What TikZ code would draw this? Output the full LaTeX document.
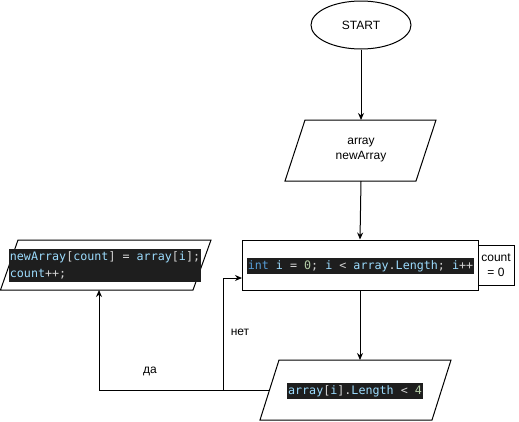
\documentclass[tikz,border=0pt]{standalone}
\usepackage{fontspec}
\setmainfont{Liberation Sans}
\setmonofont{DejaVu Sans Mono}
\usetikzlibrary{arrows.meta,shapes.geometric}
\definecolor{codebg}{HTML}{1E1E1E}
\definecolor{cid}{HTML}{9CDCFE}
\definecolor{ckw}{HTML}{569CD6}
\definecolor{cnum}{HTML}{B5CEA8}
\definecolor{cop}{HTML}{D4D4D4}
\newcommand{\cI}[1]{\textcolor{cid}{#1}}
\newcommand{\cK}[1]{\textcolor{ckw}{#1}}
\newcommand{\cN}[1]{\textcolor{cnum}{#1}}
\begin{document}
\begin{tikzpicture}[x=1pt,y=-1pt,line width=1pt,
  lbl/.style={font=\fontsize{12}{14.5}\selectfont,align=center,inner sep=0pt},
  code/.style={fill=codebg,text=cop,font=\ttfamily\fontsize{11.7}{17.5}\selectfont,inner xsep=1pt,inner ysep=2pt,align=left},
  conn/.style={draw,-{Stealth[length=7pt,width=6pt]}}]
\useasboundingbox (0,0) rectangle (519,421);
\fill[white] (0,0) rectangle (519,421);

% START
\node[draw,ellipse,minimum width=100pt,minimum height=48pt,inner sep=0pt,lbl] (start) at (361,25) {START};

% input parallelogram
\draw (305,120) -- (436,120) -- (416,181) -- (285,181) -- cycle;
\node[lbl] (in1) at (361,150) {array\\newArray};
\coordinate (in1n) at (361,120);
\coordinate (in1s) at (361,181);

% loop box
\node[draw,minimum width=236pt,minimum height=50pt,inner sep=0pt] (loop) at (360,265) {};
\node[code] (loopcode) at (360.5,266) {\cK{int} \cI{i} = \cN{0}; \cI{i} < \cI{array}.\cI{Length}; \cI{i}++};
\node[draw,lbl,minimum width=36pt,minimum height=40pt] (count) at (496,265) {count\\= 0};

% decision parallelogram
\draw (279,360) -- (451,360) -- (432,420) -- (260,420) -- cycle;
\node[code] (deccode) at (355,391) {\cI{array}[\cI{i}].\cI{Length} < \cN{4}};
\coordinate (decn) at (360,360);
\coordinate (decw) at (269.5,390);

% left parallelogram
\draw (18,240) -- (211,240) -- (193,290) -- (0.5,290) -- cycle;
\node[code] (leftcode) at (105,265.5) {\cI{newArray}[\cI{count}] = \cI{array}[\cI{i}];\\\cI{count}++;};
\coordinate (lefts) at (99,290);

% connectors
\draw[conn] (start.south) -- (in1n);
\draw[conn] (in1s) -- (loop.north);
\draw[conn] (loop.south) -- (decn);
\coordinate (c1) at (99,390);
\draw[conn] (decw) -- (c1) -- (lefts);
\coordinate (c2) at (223,390);
\coordinate (loopw) at (242,278);
\draw[conn] (decw) -- (c2) |- (loopw);

% labels
\node[lbl] (yes) at (150,371) {да};
\node[lbl] (no) at (240,332) {нет};
\end{tikzpicture}
\end{document}
